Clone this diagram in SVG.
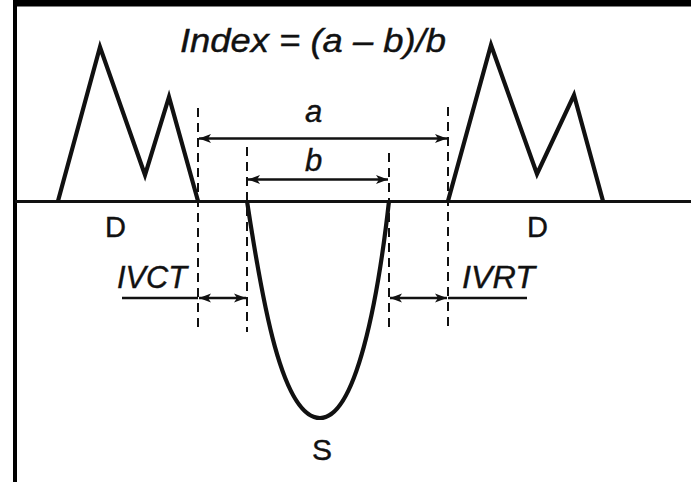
<svg xmlns="http://www.w3.org/2000/svg" width="691" height="482" viewBox="0 0 691 482">
<style>
.t{font-family:"Liberation Sans",Arial,sans-serif;fill:#111;stroke:#111;stroke-width:0.4}
.i{font-style:italic}
.wave{fill:none;stroke:#111;stroke-width:4.2;stroke-linejoin:miter;stroke-linecap:butt}
.dash{stroke:#111;stroke-width:2;stroke-dasharray:9 6;fill:none}
.arr{stroke:#111;stroke-width:2.3;fill:none}
</style>
<defs>
<marker id="ah" viewBox="0 0 12 10" refX="12" refY="5" markerWidth="12" markerHeight="10" markerUnits="userSpaceOnUse" orient="auto-start-reverse">
<path d="M0,0.5 L12,5 L0,9.5 L3,5 Z" fill="#111"/>
</marker>
</defs>
<rect x="0" y="0" width="691" height="482" fill="#fff"/>
<rect x="13" y="0" width="678" height="6.5" fill="#000"/>
<rect x="13" y="0" width="4" height="482" fill="#000"/>
<g id="baseline"><line x1="15" y1="201.5" x2="691" y2="201.5" stroke="#111" stroke-width="2.8"/></g>
<g id="title"><text class="t i" x="180" y="52" font-size="33" textLength="266" lengthAdjust="spacingAndGlyphs">Index = (a – b)/b</text></g>
<g id="diastole-left">
<polyline class="wave" points="58,201 100,47 145,175 169,97 198,201"/>
<text class="t" x="105" y="237" font-size="29">D</text>
</g>
<g id="diastole-right">
<polyline class="wave" points="448,201 491,45 537,174 574,95 603,201"/>
<text class="t" x="527" y="237" font-size="29">D</text>
</g>
<g id="systole">
<path class="wave" d="M247,201 C262,300 282,418 320,418 C356,418 378,300 389,201"/>
<text class="t" x="312" y="460" font-size="30">S</text>
</g>
<g id="connectors">
<line class="dash" x1="198" y1="108" x2="198" y2="332"/>
<line class="dash" x1="247" y1="147" x2="247" y2="332"/>
<line class="dash" x1="389" y1="153" x2="389" y2="332"/>
<line class="dash" x1="448" y1="107" x2="448" y2="332"/>
<line class="arr" x1="199" y1="138.5" x2="447" y2="138.5" marker-start="url(#ah)" marker-end="url(#ah)"/>
<line class="arr" x1="248" y1="179.5" x2="388" y2="179.5" marker-start="url(#ah)" marker-end="url(#ah)"/>
<line class="arr" x1="122" y1="298" x2="198" y2="298"/>
<line class="arr" x1="199" y1="298" x2="246" y2="298" marker-start="url(#ah)" marker-end="url(#ah)"/>
<line class="arr" x1="448" y1="298" x2="527" y2="298"/>
<line class="arr" x1="390" y1="298" x2="447" y2="298" marker-start="url(#ah)" marker-end="url(#ah)"/>
</g>
<g id="labels">
<text class="t i" x="305" y="122" font-size="31">a</text>
<text class="t i" x="305" y="171" font-size="31">b</text>
<text class="t i" x="117" y="288" font-size="31" textLength="70" lengthAdjust="spacingAndGlyphs">IVCT</text>
<text class="t i" x="462" y="288" font-size="31" textLength="73" lengthAdjust="spacingAndGlyphs">IVRT</text>
</g>
</svg>
